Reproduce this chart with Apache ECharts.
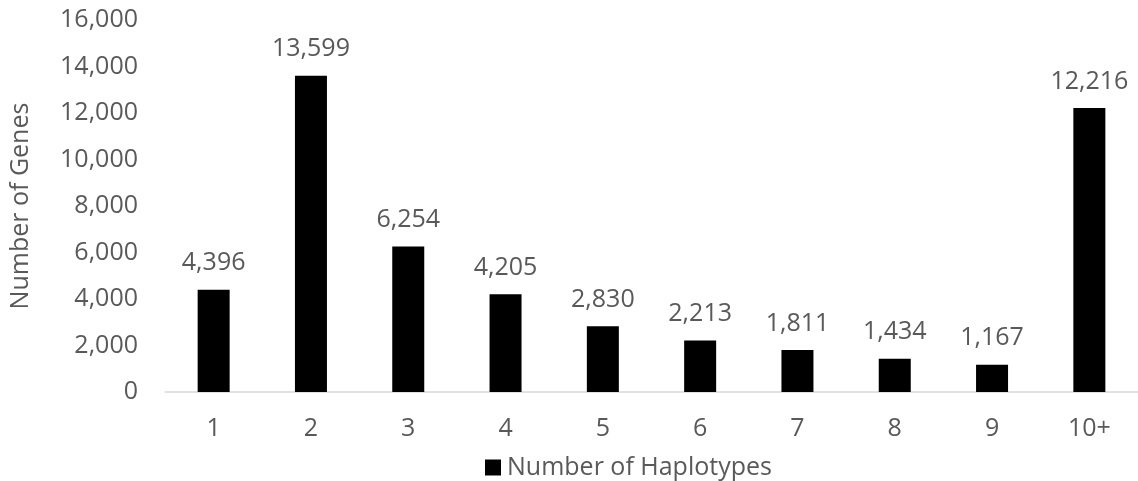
<!DOCTYPE html>
<html>
<head>
<meta charset="utf-8">
<script src="https://cdn.jsdelivr.net/npm/echarts@6/dist/echarts.min.js"></script>
<style>
  html, body { margin: 0; padding: 0; background: #ffffff; overflow: hidden; }
  #chart { width: 1138px; height: 481px; }
</style>
</head>
<body>
<div id="chart"></div>
<script>
// Haplotype counts per gene
const categories = ['1', '2', '3', '4', '5', '6', '7', '8', '9', '10+'];
const geneCounts = [4396, 13599, 6254, 4205, 2830, 2213, 1811, 1434, 1167, 12216];
const seriesName = 'Number of Haplotypes';
const yAxisName = 'Number of Genes';

const FONT = '"Open Sans", sans-serif';
const TEXT = '#595959';
const SIZE = 25;

const chart = echarts.init(document.getElementById('chart'), null, { renderer: 'canvas' });
chart.setOption({
  animation: false,
  backgroundColor: '#ffffff',
  textStyle: { fontFamily: FONT },
  grid: { left: 154, right: -12, top: 20, bottom: 89, containLabel: false },
  legend: {
    data: [seriesName],
    top: 450,
    left: 480,
    icon: 'rect',
    itemWidth: 16,
    itemHeight: 16,
    itemGap: 6,
    textStyle: { fontFamily: FONT, fontSize: SIZE, color: TEXT, padding: [0, 0, 0, 1] }
  },
  xAxis: {
    type: 'category',
    data: categories,
    axisLine: { lineStyle: { color: '#d9d9d9', width: 1.5 } },
    axisTick: { show: false },
    axisLabel: { fontFamily: FONT, fontSize: SIZE, color: TEXT, margin: 24 }
  },
  yAxis: {
    type: 'value',
    min: 0,
    max: 16000,
    interval: 2000,
    name: yAxisName,
    nameLocation: 'middle',
    nameGap: 132,
    nameTextStyle: { fontFamily: FONT, fontSize: SIZE, color: TEXT },
    splitLine: { show: false },
    axisLine: { show: false },
    axisTick: { show: false },
    axisLabel: {
      fontFamily: FONT, fontSize: SIZE, color: TEXT, margin: 27,
      formatter: v => v.toLocaleString('en-US')
    }
  },
  series: [{
    name: seriesName,
    type: 'bar',
    data: geneCounts,
    barWidth: 32,
    itemStyle: { color: '#000000' },
    label: {
      show: true,
      position: 'top',
      distance: 14,
      fontFamily: FONT,
      fontSize: SIZE,
      color: TEXT,
      formatter: p => p.value.toLocaleString('en-US')
    }
  }]
});
</script>
</body>
</html>
